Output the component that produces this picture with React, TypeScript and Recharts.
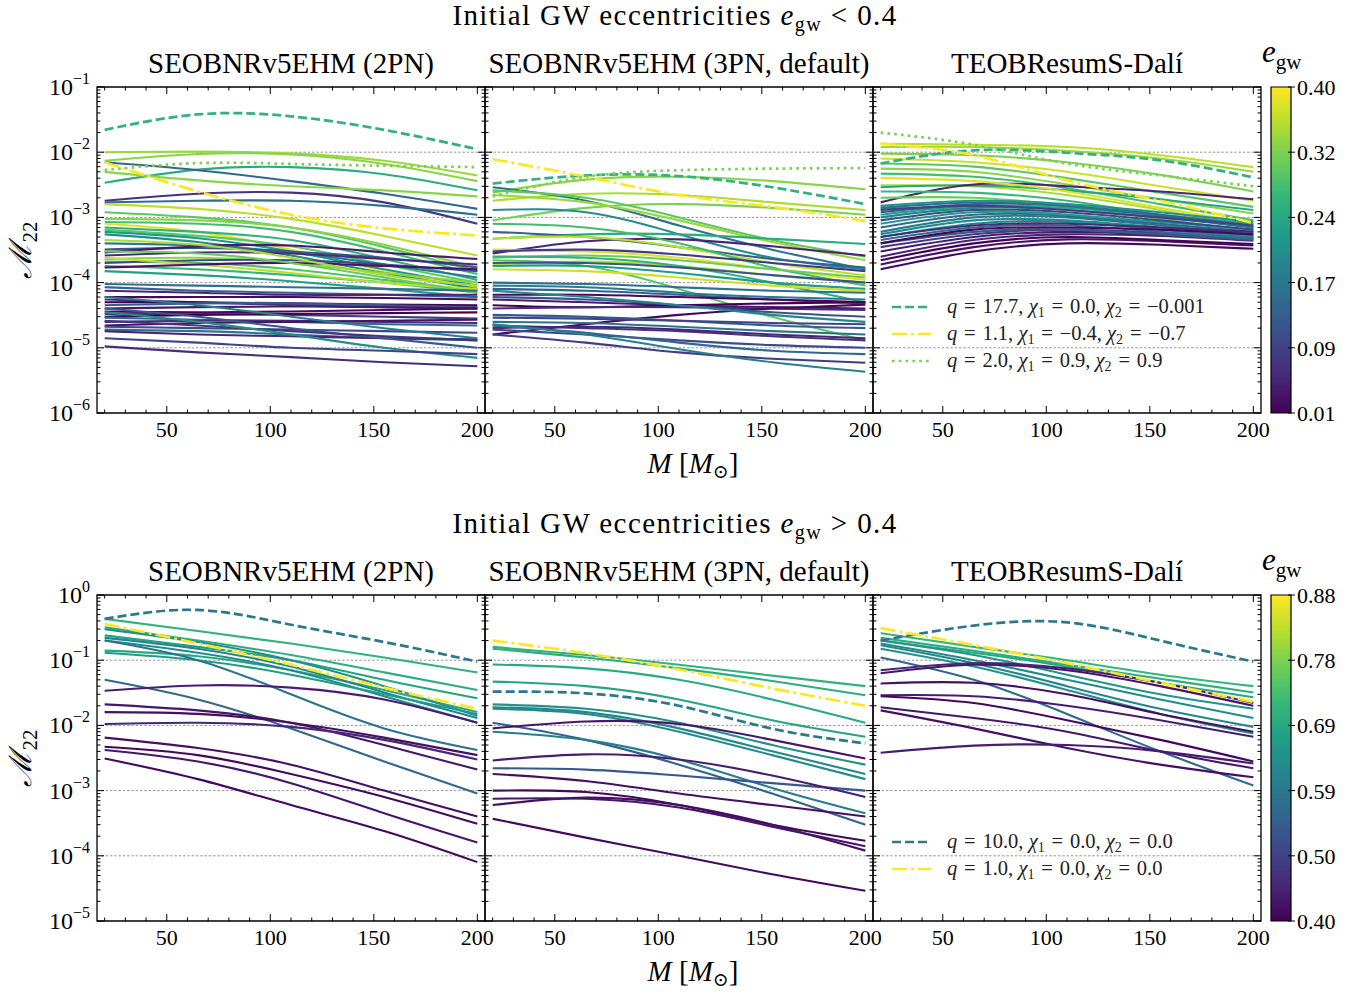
import React from 'react';
import { LineChart, Line, XAxis, YAxis, ReferenceLine, ReferenceArea, Legend } from 'recharts';

const FONT = '"Liberation Serif", "DejaVu Serif", serif';

// ---------- axes / ticks ----------
const M_GRID = [20, 65, 110, 155, 200];
const X_DOMAIN: [number, number] = [16.3, 203.7];
const X_MAJOR = [50, 100, 150, 200];
const X_MINOR = [20, 30, 40, 60, 70, 80, 90, 110, 120, 130, 140, 160, 170, 180, 190];
const X_TICKS = [...X_MINOR, ...X_MAJOR].sort((a, b) => a - b);

const Y_MAJOR_TOP = [1e-6, 1e-5, 1e-4, 1e-3, 1e-2, 1e-1];
const Y_MAJOR_BOT = [1e-5, 1e-4, 1e-3, 1e-2, 1e-1, 1];
const MINOR_MULT = [2, 3, 4, 5, 6, 7, 8, 9];

const CB_TOP_TICKS = [0.01, 0.088, 0.166, 0.244, 0.322, 0.4];
const CB_BOT_TICKS = [0.4, 0.496, 0.592, 0.688, 0.784, 0.88];
const CB_TOP_RANGE: [number, number] = [0.01, 0.4];
const CB_BOT_RANGE: [number, number] = [0.4, 0.88];

const TITLES_TOP = ['SEOBNRv5EHM (2PN)', 'SEOBNRv5EHM (3PN, default)', 'TEOBResumS-Dalí'];
const TITLES_BOT = ['SEOBNRv5EHM (2PN)', 'SEOBNRv5EHM (3PN, default)', 'TEOBResumS-Dalí'];

const TOP_LEGEND = [
  ['17.7', '0.0', '\u22120.001'],
  ['1.1', '\u22120.4', '\u22120.7'],
  ['2.0', '0.9', '0.9'],
];
const BOT_LEGEND = [
  ['10.0', '0.0', '0.0'],
  ['1.0', '0.0', '0.0'],
];

// ---------- data: [e_gw, M=20, 65, 110, 155, 200] ----------
const TL_SOLID = [
  [0.34, 1.0e-2, 1.02e-2, 9.6e-3, 7.4e-3, 4.4e-3],
  [0.33, 7.4e-3, 9.4e-3, 9.2e-3, 6.6e-3, 3.6e-3],
  [0.25, 3.4e-3, 5.4e-3, 5.9e-3, 4.6e-3, 2.6e-3],
  [0.14, 7.0e-3, 5.3e-3, 3.6e-3, 2.3e-3, 1.35e-3],
  [0.33, 5.0e-3, 3.7e-3, 3.0e-3, 2.6e-3, 2.1e-3],
  [0.07, 1.8e-3, 2.3e-3, 2.4e-3, 1.7e-3, 8.0e-4],
  [0.15, 1.7e-3, 1.8e-3, 1.8e-3, 1.5e-3, 1.1e-3],
  [0.36, 1.6e-3, 1.35e-3, 9.5e-4, 5.2e-4, 2.6e-4],
  [0.30, 1.2e-3, 1.0e-3, 7.0e-4, 3.5e-4, 1.5e-4],
  [0.33, 9.5e-4, 9.0e-4, 7.0e-4, 3.8e-4, 1.7e-4],
  [0.28, 8.5e-4, 8.0e-4, 6.0e-4, 3.0e-4, 1.35e-4],
  [0.38, 8.0e-4, 6.0e-4, 3.2e-4, 1.5e-4, 8.5e-5],
  [0.26, 7.0e-4, 6.0e-4, 4.5e-4, 2.3e-4, 1.1e-4],
  [0.30, 6.5e-4, 5.2e-4, 3.6e-4, 1.9e-4, 1.0e-4],
  [0.22, 6.0e-4, 4.8e-4, 3.0e-4, 1.6e-4, 9.0e-5],
  [0.20, 5.5e-4, 4.2e-4, 2.6e-4, 1.4e-4, 8.0e-5],
  [0.17, 4.0e-4, 3.7e-4, 2.9e-4, 1.9e-4, 1.2e-4],
  [0.12, 3.2e-4, 3.4e-4, 3.0e-4, 2.4e-4, 1.7e-4],
  [0.04, 2.9e-4, 3.6e-4, 3.7e-4, 2.9e-4, 2.3e-4],
  [0.06, 2.6e-4, 2.9e-4, 2.8e-4, 2.3e-4, 1.9e-4],
  [0.33, 2.3e-4, 2.4e-4, 2.0e-4, 1.4e-4, 1.0e-4],
  [0.29, 2.1e-4, 2.0e-4, 1.6e-4, 1.1e-4, 7.5e-5],
  [0.10, 2.0e-4, 2.2e-4, 2.2e-4, 1.9e-4, 1.5e-4],
  [0.27, 1.8e-4, 1.6e-4, 1.3e-4, 1.0e-4, 7.0e-5],
  [0.36, 2.4e-4, 1.9e-4, 1.4e-4, 1.0e-4, 8.0e-5],
  [0.03, 1.7e-4, 1.9e-4, 2.0e-4, 1.8e-4, 1.6e-4],
  [0.23, 1.5e-4, 1.3e-4, 1.05e-4, 8.0e-5, 6.0e-5],
  [0.31, 3.0e-4, 2.8e-4, 2.0e-4, 1.2e-4, 7.0e-5],
  [0.35, 4.5e-4, 3.8e-4, 2.4e-4, 1.3e-4, 9.0e-5],
  [0.15, 9.5e-5, 9.0e-5, 8.5e-5, 8.0e-5, 7.5e-5],
  [0.13, 8.5e-5, 7.5e-5, 7.0e-5, 6.5e-5, 6.0e-5],
  [0.05, 7.5e-5, 7.0e-5, 6.5e-5, 6.5e-5, 6.5e-5],
  [0.02, 6.0e-5, 6.0e-5, 6.0e-5, 5.8e-5, 5.5e-5],
  [0.07, 5.5e-5, 5.0e-5, 4.5e-5, 4.2e-5, 4.0e-5],
  [0.01, 5.0e-5, 5.0e-5, 4.8e-5, 4.6e-5, 4.5e-5],
  [0.12, 4.5e-5, 4.8e-5, 4.8e-5, 4.5e-5, 4.2e-5],
  [0.04, 4.0e-5, 4.2e-5, 4.3e-5, 4.2e-5, 4.0e-5],
  [0.02, 3.6e-5, 3.5e-5, 3.6e-5, 3.8e-5, 4.0e-5],
  [0.08, 3.3e-5, 3.3e-5, 3.2e-5, 3.0e-5, 2.8e-5],
  [0.01, 3.0e-5, 3.2e-5, 3.3e-5, 3.4e-5, 3.5e-5],
  [0.14, 2.9e-5, 2.7e-5, 2.5e-5, 2.3e-5, 2.2e-5],
  [0.06, 2.5e-5, 2.6e-5, 2.6e-5, 2.5e-5, 2.4e-5],
  [0.03, 2.2e-5, 2.4e-5, 2.5e-5, 2.6e-5, 2.7e-5],
  [0.10, 2.1e-5, 2.0e-5, 1.9e-5, 1.8e-5, 1.7e-5],
  [0.16, 1.9e-5, 1.8e-5, 1.6e-5, 1.4e-5, 1.3e-5],
  [0.05, 1.8e-5, 1.6e-5, 1.5e-5, 1.4e-5, 1.35e-5],
  [0.18, 6.0e-5, 4.5e-5, 3.0e-5, 2.0e-5, 1.4e-5],
  [0.12, 4.0e-5, 3.0e-5, 2.0e-5, 1.4e-5, 1.0e-5],
  [0.07, 2.6e-5, 2.2e-5, 1.8e-5, 1.5e-5, 1.3e-5],
  [0.20, 3.5e-5, 2.5e-5, 1.6e-5, 1.0e-5, 7.0e-6],
  [0.06, 1.05e-5, 8.5e-6, 7.2e-6, 6.0e-6, 5.2e-6],
  [0.09, 1.4e-5, 1.2e-5, 1.0e-5, 9.0e-6, 8.0e-6],
];
const TL_SPECIAL = [
  [0.26, 0.022, 0.038, 0.0355, 0.022, 0.0111],
  [0.40, 0.0070, 0.0025, 0.0011, 0.00068, 0.00053],
  [0.32, 0.0053, 0.0068, 0.0066, 0.0062, 0.0059],
];

const TM_SOLID = [
  [0.33, 2.4e-3, 3.8e-3, 4.2e-3, 3.6e-3, 2.7e-3],
  [0.35, 1.8e-3, 2.3e-3, 2.2e-3, 1.7e-3, 1.3e-3],
  [0.32, 9.0e-4, 1.4e-3, 1.6e-3, 1.4e-3, 1.1e-3],
  [0.16, 2.9e-3, 1.8e-3, 7.5e-4, 3.2e-4, 1.6e-4],
  [0.20, 1.3e-3, 1.2e-3, 5.5e-4, 2.4e-4, 1.6e-4],
  [0.30, 2.6e-3, 2.0e-3, 1.0e-3, 4.5e-4, 2.5e-4],
  [0.34, 2.2e-3, 1.7e-3, 9.0e-4, 4.2e-4, 2.2e-4],
  [0.25, 4.7e-4, 5.5e-4, 5.5e-4, 4.7e-4, 3.9e-4],
  [0.05, 2.8e-4, 4.3e-4, 4.6e-4, 3.6e-4, 2.6e-4],
  [0.13, 6.0e-4, 5.0e-4, 3.5e-4, 2.3e-4, 1.7e-4],
  [0.36, 4.7e-4, 5.0e-4, 3.5e-4, 2.0e-4, 1.3e-4],
  [0.38, 3.2e-4, 3.0e-4, 2.4e-4, 1.6e-4, 1.1e-4],
  [0.28, 8.0e-4, 7.0e-4, 4.0e-4, 1.7e-4, 9.0e-5],
  [0.31, 2.4e-4, 2.6e-4, 2.2e-4, 1.6e-4, 1.2e-4],
  [0.35, 1.9e-4, 2.1e-4, 1.8e-4, 1.3e-4, 1.0e-4],
  [0.26, 2.5e-4, 2.4e-4, 1.8e-4, 1.0e-4, 5.0e-5],
  [0.30, 2.2e-4, 1.8e-4, 8.0e-5, 3.0e-5, 1.3e-5],
  [0.08, 3.0e-4, 3.2e-4, 2.7e-4, 2.0e-4, 1.5e-4],
  [0.11, 2.0e-4, 2.0e-4, 1.7e-4, 1.3e-4, 1.0e-4],
  [0.22, 1.8e-4, 1.8e-4, 1.4e-4, 1.0e-4, 8.0e-5],
  [0.37, 1.6e-4, 1.5e-4, 1.2e-4, 9.0e-5, 7.5e-5],
  [0.15, 1.0e-4, 9.5e-5, 8.5e-5, 7.5e-5, 7.0e-5],
  [0.17, 9.0e-5, 8.5e-5, 7.0e-5, 6.0e-5, 5.5e-5],
  [0.13, 8.0e-5, 7.5e-5, 6.5e-5, 5.5e-5, 4.8e-5],
  [0.02, 6.5e-5, 6.5e-5, 6.0e-5, 5.5e-5, 5.0e-5],
  [0.04, 5.5e-5, 5.0e-5, 4.5e-5, 4.2e-5, 4.0e-5],
  [0.01, 4.5e-5, 4.2e-5, 4.5e-5, 4.8e-5, 5.0e-5],
  [0.06, 4.0e-5, 4.2e-5, 4.2e-5, 4.0e-5, 3.8e-5],
  [0.02, 1.6e-5, 2.3e-5, 3.2e-5, 4.0e-5, 4.6e-5],
  [0.12, 3.2e-5, 3.0e-5, 2.6e-5, 2.2e-5, 2.0e-5],
  [0.09, 2.9e-5, 2.8e-5, 2.6e-5, 2.4e-5, 2.3e-5],
  [0.16, 2.5e-5, 2.4e-5, 2.1e-5, 1.8e-5, 1.6e-5],
  [0.07, 2.2e-5, 2.0e-5, 1.8e-5, 1.5e-5, 1.3e-5],
  [0.05, 2.0e-5, 2.1e-5, 1.9e-5, 1.6e-5, 1.4e-5],
  [0.10, 1.9e-5, 1.6e-5, 1.3e-5, 1.1e-5, 1.0e-5],
  [0.14, 2.2e-5, 1.7e-5, 1.2e-5, 9.0e-6, 8.0e-6],
  [0.08, 1.6e-5, 1.2e-5, 8.5e-6, 6.8e-6, 5.9e-6],
  [0.18, 2.3e-5, 1.6e-5, 9.5e-6, 6.0e-6, 4.3e-6],
  [0.11, 6.0e-5, 5.5e-5, 4.5e-5, 3.5e-5, 3.0e-5],
  [0.19, 7.5e-5, 6.0e-5, 4.5e-5, 3.2e-5, 2.5e-5],
];
const TM_SPECIAL = [
  [0.26, 0.0033, 0.0044, 0.0043, 0.0029, 0.0016],
  [0.40, 0.0078, 0.0042, 0.0022, 0.00145, 0.00088],
  [0.32, 0.0021, 0.0042, 0.0053, 0.0056, 0.0057],
];

const TR_SOLID = [
  [0.36, 1.35e-2, 1.3e-2, 1.2e-2, 9.0e-3, 5.9e-3],
  [0.34, 1.2e-2, 1.2e-2, 1.05e-2, 8.0e-3, 5.0e-3],
  [0.32, 9.5e-3, 9.0e-3, 7.0e-3, 4.5e-3, 2.5e-3],
  [0.37, 8.0e-3, 7.0e-3, 5.0e-3, 3.0e-3, 1.8e-3],
  [0.30, 6.7e-3, 6.0e-3, 4.0e-3, 2.4e-3, 1.45e-3],
  [0.33, 5.6e-3, 5.0e-3, 3.2e-3, 1.9e-3, 1.15e-3],
  [0.28, 4.7e-3, 4.2e-3, 2.8e-3, 1.6e-3, 9.0e-4],
  [0.35, 3.1e-3, 3.0e-3, 2.2e-3, 1.3e-3, 7.0e-4],
  [0.24, 2.9e-3, 3.1e-3, 2.6e-3, 1.9e-3, 1.3e-3],
  [0.05, 1.7e-3, 3.2e-3, 3.0e-3, 2.5e-3, 1.9e-3],
  [0.30, 1.4e-3, 1.3e-3, 1.1e-3, 8.0e-4, 5.5e-4],
  [0.27, 2.5e-3, 2.4e-3, 1.8e-3, 1.1e-3, 7.0e-4],
  [0.38, 4.0e-3, 3.6e-3, 2.5e-3, 1.4e-3, 8.0e-4],
  [0.31, 2.0e-3, 2.0e-3, 1.5e-3, 9.5e-4, 6.0e-4],
  [0.02, 1.6e-4, 3.0e-4, 4.0e-4, 3.8e-4, 3.3e-4],
  [0.03, 1.9e-4, 3.5e-4, 4.6e-4, 4.3e-4, 3.7e-4],
  [0.01, 2.2e-4, 4.0e-4, 5.0e-4, 4.5e-4, 3.9e-4],
  [0.05, 2.5e-4, 4.5e-4, 5.5e-4, 5.2e-4, 4.4e-4],
  [0.04, 3.0e-4, 5.0e-4, 6.0e-4, 5.5e-4, 4.8e-4],
  [0.08, 3.5e-4, 5.5e-4, 6.5e-4, 5.8e-4, 5.0e-4],
  [0.12, 4.0e-4, 6.0e-4, 6.5e-4, 5.5e-4, 4.5e-4],
  [0.15, 4.5e-4, 7.0e-4, 7.5e-4, 6.0e-4, 4.7e-4],
  [0.18, 5.0e-4, 8.0e-4, 8.5e-4, 6.5e-4, 5.0e-4],
  [0.20, 5.5e-4, 9.0e-4, 9.0e-4, 7.0e-4, 5.2e-4],
  [0.17, 6.0e-4, 1.0e-3, 1.0e-3, 7.5e-4, 5.5e-4],
  [0.14, 7.0e-4, 1.1e-3, 1.05e-3, 8.0e-4, 6.0e-4],
  [0.22, 8.0e-4, 1.2e-3, 1.1e-3, 8.5e-4, 6.5e-4],
  [0.10, 9.0e-4, 1.3e-3, 1.2e-3, 9.0e-4, 6.5e-4],
  [0.19, 1.0e-3, 1.4e-3, 1.3e-3, 1.0e-3, 7.0e-4],
  [0.24, 1.1e-3, 1.5e-3, 1.4e-3, 1.1e-3, 8.0e-4],
  [0.13, 1.2e-3, 1.6e-3, 1.5e-3, 1.1e-3, 7.5e-4],
  [0.16, 1.4e-3, 1.7e-3, 1.5e-3, 1.05e-3, 7.0e-4],
  [0.21, 1.5e-3, 1.8e-3, 1.6e-3, 1.2e-3, 8.5e-4],
  [0.06, 5.0e-4, 7.5e-4, 8.0e-4, 7.0e-4, 6.0e-4],
  [0.02, 4.0e-4, 6.5e-4, 7.0e-4, 6.5e-4, 5.5e-4],
  [0.09, 1.3e-3, 1.5e-3, 1.3e-3, 1.0e-3, 7.5e-4],
];
const TR_SPECIAL = [
  [0.26, 0.0067, 0.0107, 0.0098, 0.0075, 0.0041],
  [0.40, 0.0135, 0.009, 0.0037, 0.0018, 0.00082],
  [0.32, 0.020, 0.013, 0.0067, 0.0044, 0.0030],
];

const BL_SOLID = [
  [0.71, 0.43, 0.28, 0.18, 0.11, 0.065],
  [0.70, 0.32, 0.20, 0.12, 0.065, 0.035],
  [0.68, 0.24, 0.16, 0.10, 0.05, 0.026],
  [0.69, 0.14, 0.115, 0.07, 0.035, 0.016],
  [0.64, 0.30, 0.19, 0.10, 0.04, 0.014],
  [0.62, 0.22, 0.15, 0.08, 0.032, 0.013],
  [0.63, 0.20, 0.13, 0.07, 0.028, 0.011],
  [0.66, 0.13, 0.10, 0.06, 0.03, 0.015],
  [0.58, 0.20, 0.10, 0.03, 0.009, 0.0042],
  [0.56, 0.05, 0.025, 0.009, 0.0028, 0.0009],
  [0.44, 0.034, 0.041, 0.038, 0.025, 0.011],
  [0.43, 0.021, 0.017, 0.011, 0.005, 0.0021],
  [0.42, 0.016, 0.015, 0.011, 0.0065, 0.0035],
  [0.45, 0.0105, 0.011, 0.0095, 0.006, 0.003],
  [0.42, 0.0065, 0.0045, 0.0025, 0.001, 0.0004],
  [0.41, 0.0047, 0.0035, 0.0018, 0.0008, 0.00031],
  [0.43, 0.0042, 0.0028, 0.0013, 0.00045, 0.00016],
  [0.41, 0.0031, 0.0015, 0.0006, 0.00024, 0.00008],
];
const BL_SPECIAL = [
  [0.59, 0.43, 0.59, 0.35, 0.19, 0.095],
  [0.88, 0.36, 0.18, 0.085, 0.038, 0.018],
];

const BM_SOLID = [
  [0.71, 0.16, 0.12, 0.085, 0.058, 0.04],
  [0.70, 0.15, 0.11, 0.075, 0.048, 0.029],
  [0.69, 0.086, 0.075, 0.05, 0.025, 0.011],
  [0.68, 0.047, 0.04, 0.025, 0.012, 0.0067],
  [0.64, 0.021, 0.018, 0.011, 0.005, 0.0025],
  [0.62, 0.019, 0.016, 0.009, 0.004, 0.0018],
  [0.63, 0.018, 0.015, 0.008, 0.0035, 0.0015],
  [0.55, 0.011, 0.006, 0.0025, 0.0009, 0.0003],
  [0.60, 0.008, 0.006, 0.003, 0.0011, 0.00045],
  [0.53, 0.0022, 0.0021, 0.0017, 0.0013, 0.001],
  [0.43, 0.009, 0.0115, 0.0105, 0.006, 0.0031],
  [0.44, 0.0029, 0.0036, 0.003, 0.0017, 0.0008],
  [0.42, 0.0018, 0.0014, 0.0009, 0.0006, 0.0004],
  [0.41, 0.001, 0.00095, 0.0006, 0.0003, 0.00017],
  [0.42, 0.0006, 0.00078, 0.0006, 0.0003, 0.00012],
  [0.43, 0.00075, 0.00075, 0.00055, 0.00028, 0.00014],
  [0.41, 0.00037, 0.00019, 0.0001, 0.000052, 0.000029],
];
const BM_SPECIAL = [
  [0.59, 0.033, 0.031, 0.02, 0.0089, 0.0053],
  [0.88, 0.2, 0.128, 0.072, 0.037, 0.02],
];

const BR_SOLID = [
  [0.72, 0.26, 0.16, 0.10, 0.06, 0.04],
  [0.70, 0.22, 0.14, 0.085, 0.052, 0.032],
  [0.69, 0.20, 0.13, 0.08, 0.045, 0.027],
  [0.65, 0.20, 0.12, 0.06, 0.03, 0.018],
  [0.63, 0.18, 0.10, 0.05, 0.025, 0.013],
  [0.62, 0.17, 0.09, 0.04, 0.018, 0.0095],
  [0.64, 0.15, 0.08, 0.035, 0.015, 0.0075],
  [0.56, 0.11, 0.05, 0.015, 0.004, 0.0012],
  [0.43, 0.063, 0.085, 0.07, 0.04, 0.02],
  [0.42, 0.044, 0.045, 0.03, 0.015, 0.008],
  [0.44, 0.029, 0.028, 0.02, 0.012, 0.0067],
  [0.41, 0.028, 0.022, 0.012, 0.006, 0.0028],
  [0.43, 0.019, 0.013, 0.008, 0.004, 0.0022],
  [0.42, 0.017, 0.009, 0.0045, 0.0025, 0.0016],
  [0.44, 0.0038, 0.0049, 0.005, 0.004, 0.0026],
  [0.45, 0.07, 0.09, 0.075, 0.045, 0.022],
];
const BR_SPECIAL = [
  [0.59, 0.2, 0.34, 0.38, 0.2, 0.095],
  [0.88, 0.31, 0.17, 0.09, 0.045, 0.023],
];

// ---------- styling ----------
const SPECIAL_DASH = ['9 4', '15 4 3 4', '2.6 4.2'];
const VIR = ['#440154', '#482878', '#3e4989', '#31688e', '#26828e', '#1f9e89', '#35b779', '#6ece58', '#b5de2b', '#fde725'];
function hex(c: string) { return [1, 3, 5].map((i) => parseInt(c.slice(i, i + 2), 16)); }
function viridis(t: number) {
  const tt = Math.max(0, Math.min(1, t));
  const p = tt * 9;
  const i = Math.min(8, Math.floor(p));
  const f = p - i;
  const a = hex(VIR[i]);
  const b = hex(VIR[i + 1]);
  const c = a.map((v, k) => Math.round(v + (b[k] - v) * f));
  return `rgb(${c[0]},${c[1]},${c[2]})`;
}

const PLOT_W = 388;
const PLOT_H = 326;
const PANEL_LEFTS = [97, 485, 873];
const ROW_TOPS = [87, 595];
// one pixel of each margin is taken by the (1px) axis band
const MARGIN = { top: 22, right: 20, bottom: 39, left: 79 };

function buildRows(solids: number[][], specials: number[][]) {
  return M_GRID.map((m, i) => {
    const r: Record<string, number> = { M: m };
    solids.forEach((s, j) => { r['s' + j] = s[i + 1]; });
    specials.forEach((s, j) => { r['d' + j] = s[i + 1]; });
    return r;
  });
}

function minorTicks(majors: number[]) {
  const out: number[] = [];
  majors.slice(0, -1).forEach((m) => MINOR_MULT.forEach((k) => out.push(m * k)));
  return out;
}

const makeYTick = (majors: number[], showLabel: boolean) => (props: any) => {
  const { x, y, payload } = props;
  const v = payload.value;
  const isMajor = majors.includes(v);
  const len = isMajor ? 7 : 3.5;
  const exp = Math.round(Math.log10(v));
  return (
    <g>
      <line x1={x} y1={y} x2={x + len} y2={y} stroke="#000" strokeWidth={1} />
      <line x1={x + PLOT_W} y1={y} x2={x + PLOT_W - len} y2={y} stroke="#000" strokeWidth={1} />
      {isMajor && showLabel && (
        <text x={x - 7} y={y + 8} textAnchor="end" fontSize={24} fontFamily={FONT} fill="#000">
          <tspan>10</tspan>
          <tspan dy={-11} fontSize={16}>{exp < 0 ? '\u2212' + -exp : String(exp)}</tspan>
        </text>
      )}
    </g>
  );
};

const xTick = (props: any) => {
  const { x, y, payload } = props;
  const v = payload.value;
  const isMajor = X_MAJOR.includes(v);
  const len = isMajor ? 7 : 3.5;
  return (
    <g>
      <line x1={x} y1={y} x2={x} y2={y - len} stroke="#000" strokeWidth={1} />
      <line x1={x} y1={y - PLOT_H} x2={x} y2={y - PLOT_H + len} stroke="#000" strokeWidth={1} />
      {isMajor && (
        <text x={x} y={y + 24} textAnchor="middle" fontSize={22} fontFamily={FONT} fill="#000">{v}</text>
      )}
    </g>
  );
};

const cbTick = (props: any) => {
  const { x, y, payload } = props;
  return (
    <g>
      <line x1={x - 3} y1={y} x2={x + 4} y2={y} stroke="#000" strokeWidth={1} />
      <text x={x + 6} y={y + 8} textAnchor="start" fontSize={22} fontFamily={FONT} fill="#000">
        {Number(payload.value).toFixed(2)}
      </text>
    </g>
  );
};

const SP = '\u2004';

function LegendBlock({ items, specials, range }: { items: string[][]; specials: number[][]; range: [number, number] }) {
  return (
    <svg width={400} height={items.length * 27 + 6} style={{ display: 'block', overflow: 'visible' }}>
      {items.map((it, i) => {
        const y = 12 + i * 27;
        const t = (specials[i][0] - range[0]) / (range[1] - range[0]);
        return (
          <g key={i}>
            <line x1={5} x2={44} y1={y} y2={y} stroke={viridis(t)} strokeWidth={2.6} strokeDasharray={SPECIAL_DASH[i]} />
            <text x={60} y={y + 6} fontSize={20.5} fontFamily={FONT} fill="#222" style={{ whiteSpace: 'pre' }}>
              <tspan fontStyle="italic">q</tspan>
              <tspan>{SP + '=' + SP + it[0] + ', '}</tspan>
              <tspan fontStyle="italic">χ</tspan>
              <tspan fontSize={14} dy={4}>1</tspan>
              <tspan dy={-4}>{SP + '=' + SP + it[1] + ', '}</tspan>
              <tspan fontStyle="italic">χ</tspan>
              <tspan fontSize={14} dy={4}>2</tspan>
              <tspan dy={-4}>{SP + '=' + SP + it[2]}</tspan>
            </text>
          </g>
        );
      })}
    </svg>
  );
}

type PanelProps = {
  left: number;
  top: number;
  solids: number[][];
  specials: number[][];
  majors: number[];
  range: [number, number];
  showYLabels: boolean;
  legend?: { items: string[][]; left: number; top: number };
};

function Panel({ left, top, solids, specials, majors, range, showYLabels, legend }: PanelProps) {
  const rows = buildRows(solids, specials);
  const yDomain: [number, number] = [majors[0], majors[majors.length - 1]];
  const yTicks = [...majors, ...minorTicks(majors)].sort((a, b) => a - b);
  const norm = (e: number) => (e - range[0]) / (range[1] - range[0]);
  return (
    <div style={{ position: 'absolute', left: left - MARGIN.left - 1, top: top - MARGIN.top }}>
      <LineChart width={PLOT_W + MARGIN.left + 1 + MARGIN.right} height={PLOT_H + MARGIN.top + MARGIN.bottom + 1} data={rows} margin={MARGIN}>
        <XAxis dataKey="M" type="number" domain={X_DOMAIN} ticks={X_TICKS} interval={0} tick={xTick} tickLine={false} axisLine={false} height={1} tickSize={0} tickMargin={0} allowDataOverflow />
        <YAxis type="number" scale="log" domain={yDomain} ticks={yTicks} interval={0} tick={makeYTick(majors, showYLabels)} tickLine={false} axisLine={false} width={1} tickSize={0} tickMargin={0} allowDataOverflow />
        {majors.slice(1, -1).map((v) => (
          <ReferenceLine key={'g' + v} y={v} stroke="#8a8a8a" strokeWidth={0.9} strokeDasharray="2.5 1.8" />
        ))}
        {solids.map((s, j) => (
          <Line key={'s' + j} dataKey={'s' + j} type="natural" stroke={viridis(norm(s[0]))} strokeWidth={2.1} dot={false} activeDot={false} isAnimationActive={false} />
        ))}
        {specials.map((s, j) => (
          <Line key={'d' + j} dataKey={'d' + j} type="natural" stroke={viridis(norm(s[0]))} strokeWidth={2.7} strokeDasharray={SPECIAL_DASH[j]} dot={false} activeDot={false} isAnimationActive={false} />
        ))}
        <ReferenceArea x1={X_DOMAIN[0]} x2={X_DOMAIN[1]} y1={yDomain[0]} y2={yDomain[1]} fill="none" stroke="#000" strokeWidth={1.3} ifOverflow="visible" />
        {legend && (
          <Legend
            verticalAlign="middle"
            layout="horizontal"
            wrapperStyle={{ left: legend.left, top: legend.top + (MARGIN.top - 10), width: 'auto', height: 'auto' }}
            content={() => <LegendBlock items={legend.items} specials={specials} range={range} />}
          />
        )}
      </LineChart>
    </div>
  );
}

function ColorBar({ top, range, ticks, id }: { top: number; range: [number, number]; ticks: number[]; id: string }) {
  const data = [{ c: 0 }, { c: 1 }];
  return (
    <div style={{ position: 'absolute', left: 1271 - 5, top: top - 12 }}>
      <LineChart width={86} height={PLOT_H + 24} data={data} margin={{ top: 12, right: 60, bottom: 12, left: 5 }}>
        <defs>
          <linearGradient id={id} x1="0" y1="1" x2="0" y2="0">
            {VIR.map((c, i) => (
              <stop key={i} offset={i / (VIR.length - 1)} stopColor={c} />
            ))}
          </linearGradient>
        </defs>
        <XAxis dataKey="c" type="number" domain={[0, 1]} hide />
        <YAxis orientation="right" type="number" domain={range} ticks={ticks} interval={0} tick={cbTick} tickLine={false} axisLine={false} width={1} tickSize={0} tickMargin={0} allowDataOverflow />
        <ReferenceArea x1={0} x2={1} y1={range[0]} y2={range[1]} fill={`url(#${id})`} fillOpacity={1} stroke="#000" strokeWidth={1.2} ifOverflow="visible" />
      </LineChart>
    </div>
  );
}

function Texts() {
  const row = (dy: number, cmp: string) => (
    <g key={dy}>
      <text x={675} y={25 + dy} textAnchor="middle" fontSize={29} letterSpacing={1.4} style={{ whiteSpace: 'pre' }}>
        <tspan>{'Initial GW eccentricities '}</tspan>
        <tspan fontStyle="italic">e</tspan>
        <tspan fontSize={20} dy={6}>gw</tspan>
        <tspan dy={-6}>{' ' + cmp + ' 0.4'}</tspan>
      </text>
      {(dy === 0 ? TITLES_TOP : TITLES_BOT).map((t, i) => (
        <text key={t + i} x={PANEL_LEFTS[i] + PLOT_W / 2} y={73 + dy} textAnchor="middle" fontSize={29}>{t}</text>
      ))}
      <text x={1262} y={62 + dy} fontSize={31}>
        <tspan fontStyle="italic">e</tspan>
        <tspan fontSize={21} dy={7}>gw</tspan>
      </text>
      <text transform={`rotate(-90 31 ${250 + dy})`} x={31} y={250 + dy} textAnchor="middle" fontSize={31}>
        <tspan fontStyle="italic">ℳ</tspan>
        <tspan fontSize={21} dy={6}>22</tspan>
      </text>
      <text x={693} y={473 + dy} textAnchor="middle" fontSize={29} style={{ whiteSpace: 'pre' }}>
        <tspan fontStyle="italic">M</tspan>
        <tspan>{' ['}</tspan>
        <tspan fontStyle="italic">M</tspan>
        <tspan fontSize={19} dy={5}>⊙</tspan>
        <tspan dy={-5}>]</tspan>
      </text>
    </g>
  );
  return (
    <svg width={1372} height={992} style={{ position: 'absolute', left: 0, top: 0 }} fontFamily={FONT} fill="#000">
      {row(0, '<')}
      {row(508, '>')}
    </svg>
  );
}

export default function App() {
  return (
    <div style={{ position: 'absolute', left: 0, top: 0, width: 1372, height: 992, background: '#fff', fontFamily: FONT }}>
      <Texts />
      <Panel left={PANEL_LEFTS[0]} top={ROW_TOPS[0]} solids={TL_SOLID} specials={TL_SPECIAL} majors={Y_MAJOR_TOP} range={CB_TOP_RANGE} showYLabels />
      <Panel left={PANEL_LEFTS[1]} top={ROW_TOPS[0]} solids={TM_SOLID} specials={TM_SPECIAL} majors={Y_MAJOR_TOP} range={CB_TOP_RANGE} showYLabels={false} />
      <Panel left={PANEL_LEFTS[2]} top={ROW_TOPS[0]} solids={TR_SOLID} specials={TR_SPECIAL} majors={Y_MAJOR_TOP} range={CB_TOP_RANGE} showYLabels={false} legend={{ items: TOP_LEGEND, left: 94, top: 218 }} />
      <Panel left={PANEL_LEFTS[0]} top={ROW_TOPS[1]} solids={BL_SOLID} specials={BL_SPECIAL} majors={Y_MAJOR_BOT} range={CB_BOT_RANGE} showYLabels />
      <Panel left={PANEL_LEFTS[1]} top={ROW_TOPS[1]} solids={BM_SOLID} specials={BM_SPECIAL} majors={Y_MAJOR_BOT} range={CB_BOT_RANGE} showYLabels={false} />
      <Panel left={PANEL_LEFTS[2]} top={ROW_TOPS[1]} solids={BR_SOLID} specials={BR_SPECIAL} majors={Y_MAJOR_BOT} range={CB_BOT_RANGE} showYLabels={false} legend={{ items: BOT_LEGEND, left: 94, top: 245 }} />
      <ColorBar top={ROW_TOPS[0]} range={CB_TOP_RANGE} ticks={CB_TOP_TICKS} id="virTop" />
      <ColorBar top={ROW_TOPS[1]} range={CB_BOT_RANGE} ticks={CB_BOT_TICKS} id="virBot" />
    </div>
  );
}
